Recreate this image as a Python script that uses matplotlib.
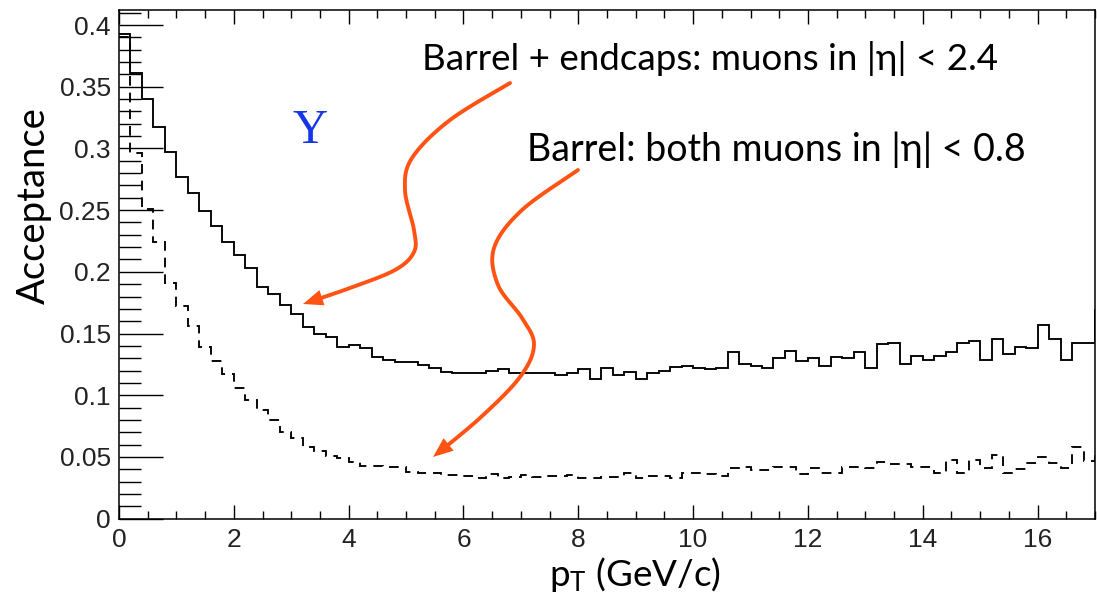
import numpy as np
import matplotlib
matplotlib.use("Agg")
import matplotlib.pyplot as plt
from matplotlib.ticker import MultipleLocator, FormatStrFormatter
from matplotlib.transforms import Affine2D
from matplotlib.patches import Polygon

# --- Acceptance vs pT, 0.2 GeV/c bins (last bin lies past the axis end) ---
PT_EDGES = np.linspace(0.0, 17.2, 87)

acc_all = [
    0.393, 0.361, 0.340, 0.317, 0.297, 0.277, 0.264, 0.249, 0.237, 0.224,
    0.214, 0.203, 0.188, 0.182, 0.173, 0.166, 0.155, 0.150, 0.147, 0.139,
    0.141, 0.138, 0.131, 0.1285, 0.127, 0.127, 0.1245, 0.122, 0.119, 0.118,
    0.118, 0.118, 0.120, 0.121, 0.1177, 0.1177, 0.1177, 0.1177, 0.116, 0.118,
    0.121, 0.113, 0.122, 0.1165, 0.1185, 0.113, 0.1177, 0.120, 0.123, 0.124,
    0.1223, 0.121, 0.1223, 0.1347, 0.1253, 0.1237, 0.1223, 0.130, 0.136, 0.1277,
    0.130, 0.1237, 0.131, 0.130, 0.1347, 0.1223, 0.1415, 0.1426, 0.1253, 0.1318,
    0.1285, 0.1318, 0.1353, 0.1426, 0.144, 0.1285, 0.1453, 0.1334, 0.139, 0.138,
    0.157, 0.1455, 0.1285, 0.1426, 0.1426, 0.169,
]

acc_barrel = [
    0.390, 0.296, 0.251, 0.224, 0.191, 0.172, 0.156, 0.139, 0.128, 0.117,
    0.106, 0.096, 0.088, 0.080, 0.070, 0.065, 0.058, 0.055, 0.051, 0.049,
    0.046, 0.043, 0.043, 0.042, 0.042, 0.038, 0.037, 0.037, 0.035, 0.035,
    0.0345, 0.033, 0.036, 0.033, 0.0335, 0.035, 0.0335, 0.0345, 0.0345, 0.035,
    0.033, 0.033, 0.034, 0.034, 0.037, 0.033, 0.0345, 0.0345, 0.033, 0.037,
    0.0367, 0.036, 0.0345, 0.041, 0.0416, 0.039, 0.039, 0.042, 0.042, 0.036,
    0.041, 0.037, 0.037, 0.0416, 0.042, 0.041, 0.046, 0.044, 0.044, 0.042,
    0.042, 0.037, 0.0475, 0.037, 0.0475, 0.041, 0.0515, 0.037, 0.040, 0.045,
    0.050, 0.045, 0.041, 0.058, 0.047, 0.053,
]

W, H = 1097, 595
plt.rcParams["lines.scale_dashes"] = False
plt.rcParams["mathtext.fontset"] = "custom"
plt.rcParams["mathtext.rm"] = "Lato"
plt.rcParams["mathtext.it"] = "Lato:italic"

fig = plt.figure(figsize=(W / 100, H / 100), dpi=100)
ax = fig.add_axes([119 / W, (H - 518.6) / H, 976 / W, 508.6 / H])

ax.stairs(acc_all, PT_EDGES, baseline=None, color="black", lw=1.35)
ax.stairs(acc_barrel, PT_EDGES, baseline=None, color="black", lw=1.35,
          linestyle=(0, (7.0, 5.0)))

ax.set_xlim(0, 17)
ax.set_ylim(0, 0.4122)

# ROOT-like frame: ticks inside, x ticks also on top, no right ticks
for s in ax.spines.values():
    s.set_linewidth(1.1)
ax.xaxis.set_major_locator(MultipleLocator(2))
ax.xaxis.set_minor_locator(MultipleLocator(0.5))
ax.yaxis.set_major_locator(MultipleLocator(0.05))
ax.yaxis.set_minor_locator(MultipleLocator(0.01))
ax.yaxis.set_major_formatter(FormatStrFormatter("%g"))
ax.tick_params(axis="x", which="both", direction="in", top=True, width=1.0,
               labelsize=19, pad=7, labelcolor="#222222")
ax.tick_params(axis="x", which="major", length=10)
ax.tick_params(axis="x", which="minor", length=6)
ax.tick_params(axis="y", which="both", direction="in", right=False, width=1.0,
               labelsize=19, pad=6, labelcolor="#222222")
ax.tick_params(axis="y", which="major", length=32)
ax.tick_params(axis="y", which="minor", length=16)
for lab in ax.get_xticklabels() + ax.get_yticklabels():
    lab.set_family("Liberation Sans")

ax.set_ylabel("Acceptance", family="Lato", fontsize=27.5)
ax.yaxis.set_label_coords(-0.087, 0.615)
ax.yaxis.label.set_va("center")
ax.set_xlabel(r"p$_{\mathrm{T}}$ (GeV/c)", family="Lato", fontsize=26.5)
ax.xaxis.set_label_coords(0.529, -0.11)
ax.xaxis.label.set_va("center")

# --- annotations (figure pixel coordinates, y from top) ---
px = Affine2D().scale(1 / W, -1 / H).translate(0, 1) + fig.transFigure
fam = ["Lato", "DejaVu Serif"]
fig.text(422, 70, "Barrel + endcaps: muons in |η| < 2.4", transform=px,
         family=fam, fontsize=26.5, va="baseline", ha="left")
fig.text(527, 161, "Barrel: both muons in |η| < 0.8", transform=px,
         family=fam, fontsize=27, va="baseline", ha="left")
fig.text(310, 131, "Υ", transform=px, family="Liberation Serif",
         fontsize=35, color="#1535e8", ha="center", va="center")


def catmull(points, n=24):
    p = np.asarray(points, float)
    p = np.vstack([p[0], p, p[-1]])
    out = []
    for i in range(1, len(p) - 2):
        p0, p1, p2, p3 = p[i - 1], p[i], p[i + 1], p[i + 2]
        t = np.linspace(0, 1, n, endpoint=False)[:, None]
        out.append(0.5 * ((2 * p1) + (-p0 + p2) * t
                          + (2 * p0 - 5 * p1 + 4 * p2 - p3) * t ** 2
                          + (-p0 + 3 * p1 - 3 * p2 + p3) * t ** 3))
    out.append(p[-2][None, :])
    return np.vstack(out)


ORANGE = "#ff5314"


def curved_arrow(points, head_len=20, head_w=8):
    c = catmull(points)
    tip = c[-1]
    # walk back along the curve to get the head direction
    d = np.cumsum(np.r_[0, np.hypot(*np.diff(c[::-1], axis=0).T)])
    back = c[::-1][np.searchsorted(d, head_len)]
    u = (tip - back) / np.hypot(*(tip - back))
    nrm = np.array([-u[1], u[0]])
    base = tip - u * head_len
    keep = d[::-1] >= head_len * 0.8
    fig.add_artist(plt.Line2D(c[keep, 0], c[keep, 1], transform=px,
                              color=ORANGE, lw=2.8, solid_capstyle="round"))
    fig.add_artist(Polygon([tip, base + nrm * head_w, base - nrm * head_w],
                           closed=True, transform=px, color=ORANGE, lw=0))


curved_arrow([(510, 83), (450, 120), (412, 158), (405, 190), (414, 230),
              (414, 252), (395, 270), (350, 288), (303, 304)])
curved_arrow([(578, 170), (522, 210), (494, 248), (498, 285), (522, 318),
              (534, 345), (520, 377), (480, 418), (433, 457)])

fig.savefig("out.png", dpi=100)
